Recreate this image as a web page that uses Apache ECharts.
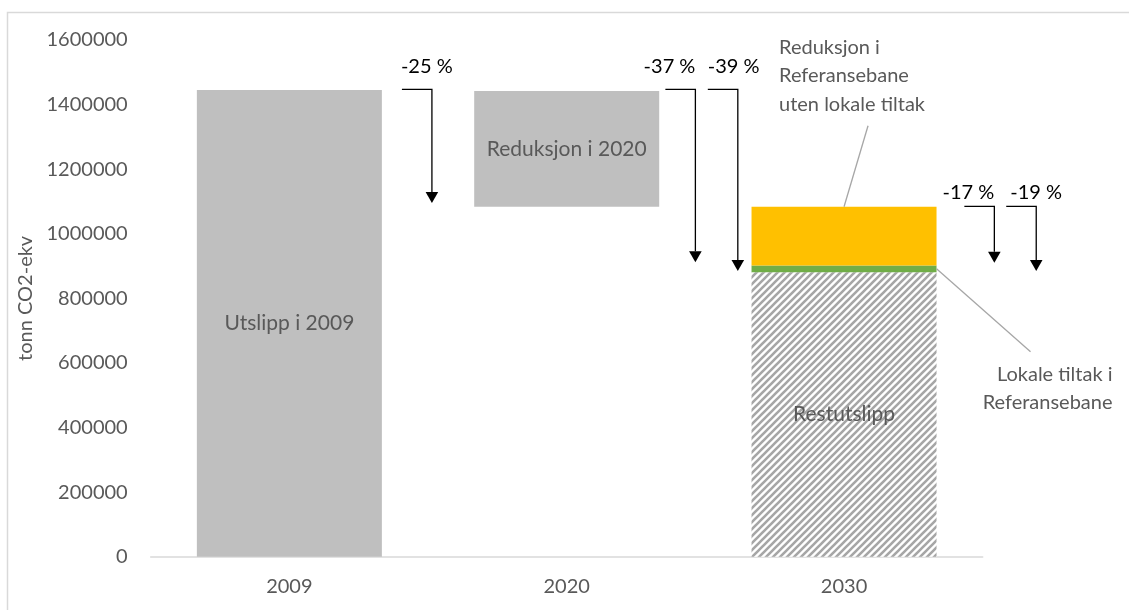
<!DOCTYPE html>
<html>
<head>
<meta charset="utf-8">
<script src="https://cdn.jsdelivr.net/npm/echarts@6/dist/echarts.min.js"></script>
<style>
  html, body { margin: 0; padding: 0; background: #fff; }
  #chart { width: 1129px; height: 610px; }
</style>
</head>
<body>
<div id="chart"></div>
<script>
// data
const categories = ['2009', '2020', '2030']
const baseValues = [0, 1083750, 0]            // invisible offset under the 2020 block
const greyValues = [1445000, 358250, 0]
const greyLabels = ['Utslipp i 2009', 'Reduksjon i 2020', '']
const restValues = [0, 0, 881000]
const lokaleValues = [0, 0, 21000]
const referanseValues = [0, 0, 181750]

const arrowLabels = ['-25 %', '-37 %', '-39 %', '-17 %', '-19 %']
const arrowCategory = [0, 1, 1, 2, 2]
const arrowFrom = [1447000, 1447000, 1447000, 1085000, 1085000]
const arrowTo = [1095000, 912000, 884500, 910500, 884500]

const calloutTexts = ['Reduksjon i\nReferansebane\nuten lokale tiltak', 'Lokale tiltak i\nReferansebane']
const calloutCategory = [2, 2]
const calloutValue = [1083750, 891500]

// layout (pixels / fractions of a category band)
const FONT = 'Lato'
const BAR_WIDTH = 185
const arrowLayout = [
  { shift: 0.514, align: 'left', dx: -31, dy: -23 },
  { shift: 0.464, align: 'right', dx: 0, dy: -23 },
  { shift: 0.617, align: 'left', dx: -30, dy: -23 },
  { shift: 0.542, align: 'right', dx: 0, dy: -14 },
  { shift: 0.693, align: 'left', dx: -26, dy: -14 },
]
const calloutLayout = [
  { anchorDx: 0, lineDx: 24, lineDy: -81, textDx: -65, textDy: -174, align: 'left' },
  { anchorDx: BAR_WIDTH / 2, lineDx: 94, lineDy: 83, textDx: 176, textDy: 91, align: 'right' },
]

function hatchPattern() {
  const n = 7
  const c = document.createElement('canvas')
  c.width = n
  c.height = n
  const ctx = c.getContext('2d')
  ctx.fillStyle = '#fff'
  ctx.fillRect(0, 0, n, n)
  ctx.strokeStyle = '#a6a6a6'
  ctx.lineWidth = 2.6
  ctx.beginPath()
  ctx.moveTo(-1, n + 1); ctx.lineTo(n + 1, -1)
  ctx.moveTo(-1, 1); ctx.lineTo(1, -1)
  ctx.moveTo(n - 1, n + 1); ctx.lineTo(n + 1, n - 1)
  ctx.stroke()
  return c
}

const chart = echarts.init(document.getElementById('chart'))

const textStyle = { color: '#595959', fontSize: 20, fontFamily: FONT }
const innerStyle = { color: '#595959', fontSize: 21, fontFamily: FONT }

const option = {
  animation: false,
  grid: { left: 150.7, right: 146.3, top: 40, bottom: 53.3, outerBoundsMode: 'none' },
  xAxis: {
    type: 'category',
    data: categories,
    axisLine: { lineStyle: { color: '#d9d9d9', width: 1.5 } },
    axisTick: { show: false },
    axisLabel: { ...textStyle, margin: 20 },
    splitLine: { show: false },
  },
  yAxis: {
    type: 'value',
    min: 0,
    max: 1600000,
    interval: 200000,
    name: 'tonn CO2-ekv',
    nameLocation: 'middle',
    nameGap: 104,
    nameTextStyle: textStyle,
    axisLine: { show: false },
    axisTick: { show: false },
    splitLine: { show: false },
    axisLabel: { ...textStyle, margin: 23, formatter: (v) => String(v) },
  },
  graphic: [
    {
      type: 'rect',
      shape: { x: 7.5, y: 12.5, width: 1140, height: 620 },
      style: { fill: null, stroke: '#d9d9d9', lineWidth: 1.5 },
      silent: true,
    },
  ],
  series: [
    {
      type: 'bar',
      stack: 'total',
      barWidth: BAR_WIDTH,
      itemStyle: { color: 'transparent' },
      data: baseValues,
    },
    {
      type: 'bar',
      stack: 'total',
      itemStyle: { color: '#bfbfbf' },
      label: {
        show: true,
        position: 'inside',
        ...innerStyle,
        formatter: (p) => greyLabels[p.dataIndex],
      },
      data: greyValues,
    },
    {
      type: 'bar',
      stack: 'total',
      itemStyle: { color: { image: hatchPattern(), repeat: 'repeat' } },
      label: {
        show: true,
        position: 'inside',
        ...innerStyle,
        formatter: (p) => (p.value ? 'Restutslipp' : ''),
      },
      data: restValues,
    },
    {
      type: 'bar',
      stack: 'total',
      itemStyle: { color: '#70ad47' },
      data: lokaleValues,
    },
    {
      type: 'bar',
      stack: 'total',
      itemStyle: { color: '#ffc000' },
      data: referanseValues,
    },
    {
      type: 'custom',
      silent: true,
      z: 5,
      data: arrowCategory.map((c, i) => [c, arrowFrom[i], arrowTo[i]]),
      renderItem: (params, api) => {
        const i = params.dataIndex
        const lay = arrowLayout[i]
        const band = api.size([1, 0])[0]
        const top = api.coord([api.value(0), api.value(1)])
        const tip = api.coord([api.value(0), api.value(2)])
        const x = top[0] + lay.shift * band
        const y0 = top[1]
        const y1 = tip[1]
        const head = 11
        const half = 6.3
        return {
          type: 'group',
          children: [
            {
              type: 'polyline',
              shape: { points: [[x - 30, y0], [x, y0], [x, y1 - head]] },
              style: { stroke: '#000', lineWidth: 1.3, fill: null },
            },
            {
              type: 'polygon',
              shape: { points: [[x - half, y1 - head], [x + half, y1 - head], [x, y1]] },
              style: { fill: '#000' },
            },
            {
              type: 'text',
              style: {
                text: arrowLabels[i],
                x: x + lay.dx,
                y: y0 + lay.dy,
                align: lay.align,
                verticalAlign: 'middle',
                fill: '#000',
                fontSize: 20,
                fontFamily: FONT,
              },
            },
          ],
        }
      },
    },
    {
      type: 'custom',
      silent: true,
      z: 5,
      data: calloutCategory.map((c, i) => [c, calloutValue[i]]),
      renderItem: (params, api) => {
        const i = params.dataIndex
        const lay = calloutLayout[i]
        const p = api.coord([api.value(0), api.value(1)])
        const ax = p[0] + lay.anchorDx
        const ay = p[1]
        return {
          type: 'group',
          children: [
            {
              type: 'line',
              shape: { x1: ax, y1: ay, x2: ax + lay.lineDx, y2: ay + lay.lineDy },
              style: { stroke: '#a6a6a6', lineWidth: 1.3 },
            },
            {
              type: 'text',
              style: {
                text: calloutTexts[i],
                x: ax + lay.textDx,
                y: ay + lay.textDy,
                align: lay.align,
                verticalAlign: 'top',
                fill: '#595959',
                fontSize: 20,
                fontFamily: FONT,
                lineHeight: 28.7,
              },
            },
          ],
        }
      },
    },
  ],
}

chart.setOption(option)
</script>
</body>
</html>
